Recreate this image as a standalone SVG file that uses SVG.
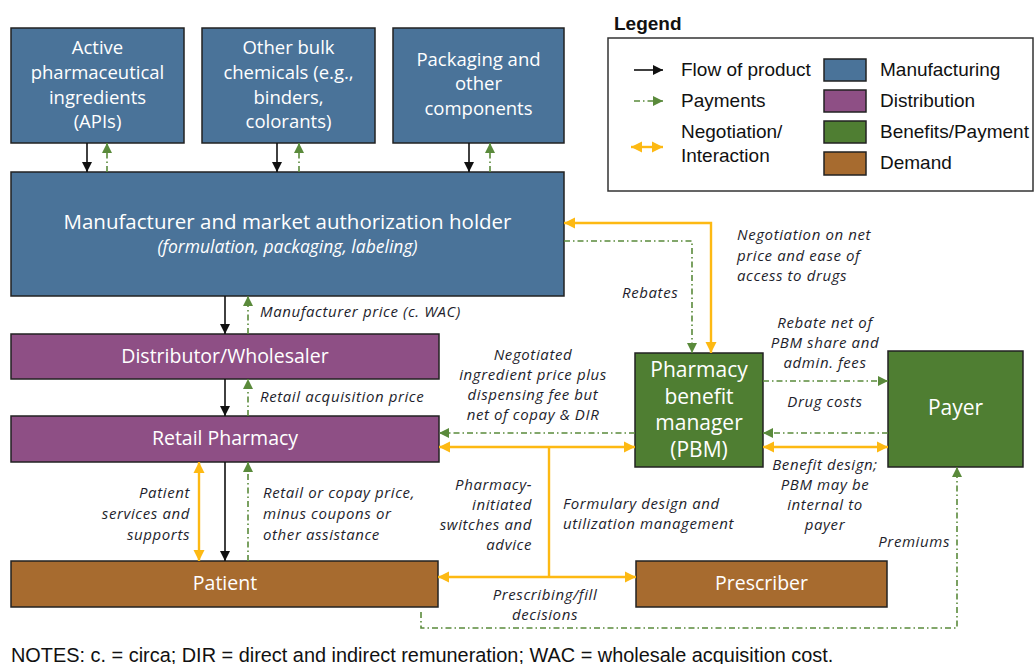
<svg xmlns="http://www.w3.org/2000/svg" width="1034" height="664" viewBox="0 0 1034 664">
<style>
.box{stroke:#222;stroke-width:1.5}
.mfg{fill:#4a7399}
.dist{fill:#8e4f85}
.ben{fill:#4f7e32}
.dem{fill:#a76b2f}
.nt{font-family:"Open Sans",sans-serif;fill:#fff;text-anchor:middle}
.lb{font-family:"Open Sans",sans-serif;font-style:italic;font-size:15px;letter-spacing:0.6px;fill:#1e1e2c}
.lg{font-family:"Liberation Sans",Arial,sans-serif;font-size:19px;fill:#111}
.note{font-family:"Liberation Sans",Arial,sans-serif;font-size:19.9px;fill:#111}
.blk{stroke:#111;stroke-width:1.6;fill:none}
.grn{stroke:#5a8a3b;stroke-width:1.6;fill:none;stroke-dasharray:6 3 1.5 3}
.org{stroke:#fdb913;stroke-width:2.4;fill:none}
</style>
<defs>
<marker id="ab" viewBox="0 0 10 10" refX="10" refY="5" markerWidth="10" markerHeight="10" markerUnits="userSpaceOnUse" orient="auto"><path d="M0,0 L10,5 L0,10 z" fill="#111"/></marker>
<marker id="ag" viewBox="0 0 10 10" refX="10" refY="5" markerWidth="10" markerHeight="10" markerUnits="userSpaceOnUse" orient="auto"><path d="M0,0 L10,5 L0,10 z" fill="#5a8a3b"/></marker>
<marker id="ao" viewBox="0 0 10 10" refX="10" refY="5" markerWidth="11" markerHeight="12" markerUnits="userSpaceOnUse" orient="auto-start-reverse"><path d="M0,0 L10,5 L0,10 z" fill="#fdb913"/></marker>
</defs>

<g id="api"><rect class="box mfg" x="11" y="28" width="173" height="115"/>
<text class="nt" font-size="18.5"><tspan x="97.5" y="54">Active</tspan><tspan x="97.5" y="79">pharmaceutical</tspan><tspan x="97.5" y="104">ingredients</tspan><tspan x="97.5" y="128">(APIs)</tspan></text></g>
<g id="bulk"><rect class="box mfg" x="202" y="28" width="173" height="115"/>
<text class="nt" font-size="18.5"><tspan x="288.5" y="54">Other bulk</tspan><tspan x="288.5" y="79">chemicals (e.g.,</tspan><tspan x="288.5" y="104">binders,</tspan><tspan x="288.5" y="128">colorants)</tspan></text></g>
<g id="packaging"><rect class="box mfg" x="393" y="28" width="171" height="115"/>
<text class="nt" font-size="18.5"><tspan x="478.5" y="66">Packaging and</tspan><tspan x="478.5" y="90">other</tspan><tspan x="478.5" y="115">components</tspan></text></g>
<g id="manufacturer"><rect class="box mfg" x="11" y="172" width="553" height="124"/>
<text class="nt" font-size="20.5" x="287.5" y="229">Manufacturer and market authorization holder</text>
<text class="nt" font-size="17.5" font-style="italic" x="287.5" y="253">(formulation, packaging, labeling)</text></g>
<g id="distributor"><rect class="box dist" x="11" y="334" width="428" height="45"/>
<text class="nt" font-size="19.5" x="225" y="363">Distributor/Wholesaler</text></g>
<g id="retail"><rect class="box dist" x="11" y="416" width="428" height="46"/>
<text class="nt" font-size="19.5" x="225" y="445">Retail Pharmacy</text></g>
<g id="patient"><rect class="box dem" x="11" y="561" width="427" height="46"/>
<text class="nt" font-size="19.5" x="225" y="590">Patient</text></g>
<g id="prescriber"><rect class="box dem" x="636" y="561" width="251" height="46"/>
<text class="nt" font-size="19.5" x="761.5" y="590">Prescriber</text></g>
<g id="pbm"><rect class="box ben" x="635" y="353" width="128" height="114"/>
<text class="nt" font-size="21"><tspan x="699" y="377">Pharmacy</tspan><tspan x="699" y="404">benefit</tspan><tspan x="699" y="430">manager</tspan><tspan x="699" y="457">(PBM)</tspan></text></g>
<g id="payer"><rect class="box ben" x="888" y="351" width="135" height="116"/>
<text class="nt" font-size="21" x="955.5" y="415">Payer</text></g>

<g id="connectors">
<path class="blk" d="M87,143 V172" marker-end="url(#ab)"/>
<path class="blk" d="M277,143 V172" marker-end="url(#ab)"/>
<path class="blk" d="M469,143 V172" marker-end="url(#ab)"/>
<path class="blk" d="M225,296 V334" marker-end="url(#ab)"/>
<path class="blk" d="M225,379 V416" marker-end="url(#ab)"/>
<path class="blk" d="M225,462 V561" marker-end="url(#ab)"/>
<path class="grn" d="M107,172 V143" marker-end="url(#ag)"/>
<path class="grn" d="M299,172 V143" marker-end="url(#ag)"/>
<path class="grn" d="M490,172 V143" marker-end="url(#ag)"/>
<path class="grn" d="M248,334 V296" marker-end="url(#ag)"/>
<path class="grn" d="M248,416 V379" marker-end="url(#ag)"/>
<path class="grn" d="M248,561 V462" marker-end="url(#ag)"/>
<path class="grn" d="M564,241 H692 V353" marker-end="url(#ag)"/>
<path class="grn" d="M763,381 H888" marker-end="url(#ag)"/>
<path class="grn" d="M888,433 H763" marker-end="url(#ag)"/>
<path class="grn" d="M635,433 H439" marker-end="url(#ag)"/>
<path class="grn" d="M421,612 V628 H957 V467" marker-end="url(#ag)"/>
<path class="org" d="M711,353 V223 H564" marker-start="url(#ao)" marker-end="url(#ao)"/>
<path class="org" d="M199,462 V561" marker-start="url(#ao)" marker-end="url(#ao)"/>
<path class="org" d="M439,447 H635" marker-start="url(#ao)" marker-end="url(#ao)"/>
<path class="org" d="M549,447 V577"/>
<path class="org" d="M438,577 H636" marker-start="url(#ao)" marker-end="url(#ao)"/>
<path class="org" d="M763,447 H888" marker-start="url(#ao)" marker-end="url(#ao)"/>
</g>

<g id="labels">
<text class="lb" x="260" y="317">Manufacturer price (c. WAC)</text>
<text class="lb" x="260" y="402">Retail acquisition price</text>
<text class="lb"><tspan x="263" y="498">Retail or copay price,</tspan><tspan x="263" y="519">minus coupons or</tspan><tspan x="263" y="540">other assistance</tspan></text>
<text class="lb" text-anchor="end"><tspan x="190" y="498">Patient</tspan><tspan x="190" y="519">services and</tspan><tspan x="190" y="540">supports</tspan></text>
<text class="lb" x="622" y="298">Rebates</text>
<text class="lb"><tspan x="737" y="240">Negotiation on net</tspan><tspan x="737" y="261">price and ease of</tspan><tspan x="737" y="281">access to drugs</tspan></text>
<text class="lb" text-anchor="middle"><tspan x="825" y="328">Rebate net of</tspan><tspan x="825" y="348">PBM share and</tspan><tspan x="825" y="368">admin. fees</tspan></text>
<text class="lb" text-anchor="middle" x="825" y="407">Drug costs</text>
<text class="lb" text-anchor="middle"><tspan x="825" y="470">Benefit design;</tspan><tspan x="825" y="490">PBM may be</tspan><tspan x="825" y="510">internal to</tspan><tspan x="825" y="530">payer</tspan></text>
<text class="lb" text-anchor="middle"><tspan x="533" y="360">Negotiated</tspan><tspan x="533" y="380">ingredient price plus</tspan><tspan x="533" y="400">dispensing fee but</tspan><tspan x="533" y="420">net of copay &amp; DIR</tspan></text>
<text class="lb" text-anchor="end"><tspan x="532" y="490">Pharmacy-</tspan><tspan x="532" y="510">initiated</tspan><tspan x="532" y="530">switches and</tspan><tspan x="532" y="550">advice</tspan></text>
<text class="lb"><tspan x="563" y="509">Formulary design and</tspan><tspan x="563" y="529">utilization management</tspan></text>
<text class="lb" text-anchor="middle"><tspan x="545" y="600">Prescribing/fill</tspan><tspan x="545" y="620">decisions</tspan></text>
<text class="lb" text-anchor="end" x="950" y="547">Premiums</text>
</g>

<g id="legend">
<text class="lg" font-weight="bold" x="614" y="30">Legend</text>
<rect x="608" y="38" width="425" height="153" fill="#fff" stroke="#333" stroke-width="1.5"/>
<path class="blk" d="M634,70 H663" marker-end="url(#ab)"/>
<path class="grn" d="M634,101 H663" marker-end="url(#ag)"/>
<path class="org" d="M631,147 H663" marker-start="url(#ao)" marker-end="url(#ao)"/>
<text class="lg" x="681" y="76">Flow of product</text>
<text class="lg" x="681" y="107">Payments</text>
<text class="lg" x="681" y="138">Negotiation/</text>
<text class="lg" x="681" y="162">Interaction</text>
<rect class="box mfg" x="824" y="59" width="42" height="22"/>
<rect class="box dist" x="824" y="90" width="42" height="22"/>
<rect class="box ben" x="824" y="121" width="42" height="22"/>
<rect class="box dem" x="824" y="152" width="42" height="23"/>
<text class="lg" x="880" y="76">Manufacturing</text>
<text class="lg" x="880" y="107">Distribution</text>
<text class="lg" x="880" y="138">Benefits/Payment</text>
<text class="lg" x="880" y="169">Demand</text>
</g>

<text class="note" x="11" y="662">NOTES: c. = circa; DIR = direct and indirect remuneration; WAC = wholesale acquisition cost.</text>
</svg>
